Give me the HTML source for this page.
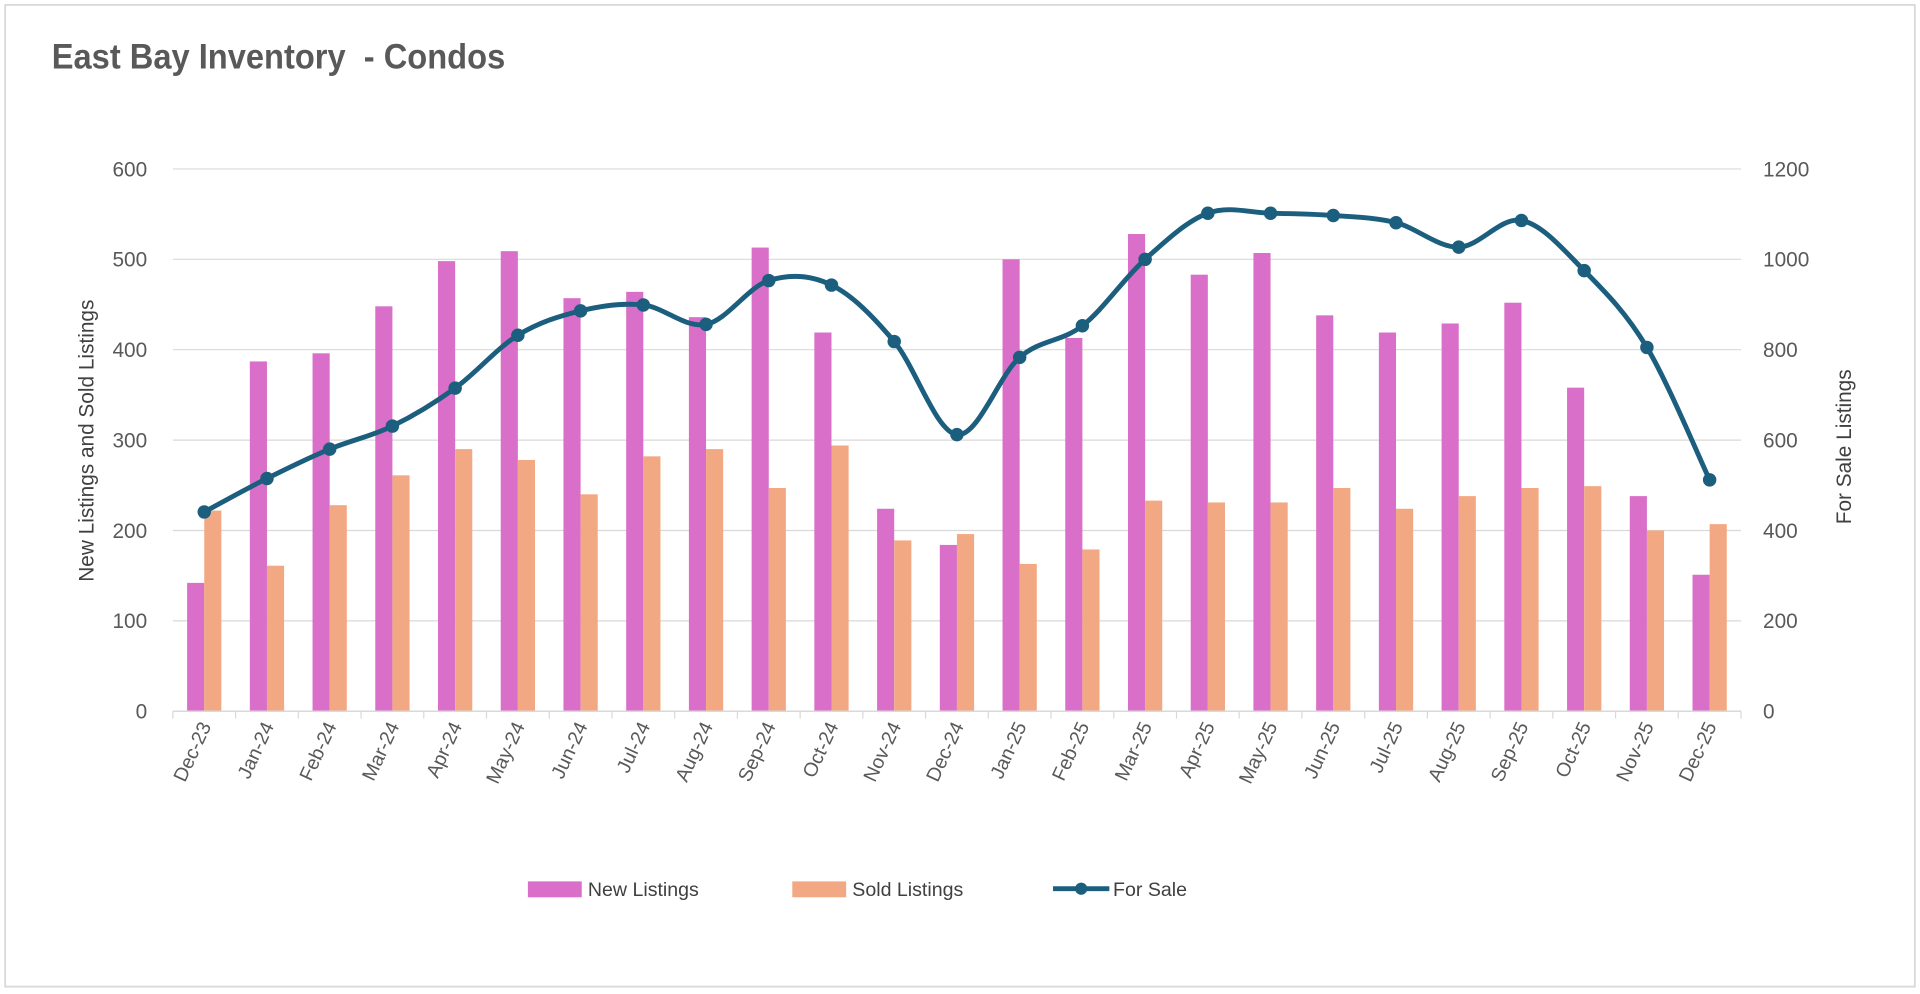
<!DOCTYPE html>
<html><head><meta charset="utf-8"><style>
html,body{margin:0;padding:0;background:#fff;}
svg{display:block;font-family:"Liberation Sans",Arial,sans-serif;}
</style></head><body>
<svg id="chart" width="1920" height="994" viewBox="0 0 1568 812" xmlns="http://www.w3.org/2000/svg">
<rect x="4" y="4" width="1560" height="802" fill="#fff" stroke="#d9d9d9" stroke-width="1.5"/>
<text x="42" y="56" font-size="29" font-weight="bold" fill="#595959" xml:space="preserve" transform="translate(3.4,0) scale(0.92,1)">East Bay Inventory &#160;- Condos</text>
<g id="grid"></g><g id="bars"></g><g id="line"></g><g id="axes"></g>
<text transform="translate(76,360) rotate(-90)" text-anchor="middle" font-size="17" fill="#404040">New Listings and Sold Listings</text>
<text transform="translate(1512,365) rotate(-90)" text-anchor="middle" font-size="17" fill="#404040">For Sale Listings</text>
<g>
 <g><rect x="431" y="720" width="44" height="13" fill="#D96FC9"/><text x="480" y="732" font-size="16" fill="#404040">New Listings</text></g>
 <g><rect x="647" y="720" width="44" height="13" fill="#F2A983"/><text x="696" y="732" font-size="16" fill="#404040">Sold Listings</text></g>
 <g><line x1="860" y1="726" x2="906" y2="726" stroke="#1B5E7E" stroke-width="4"/><circle cx="883" cy="726" r="5" fill="#1B5E7E"/><text x="909" y="732" font-size="16" fill="#404040">For Sale</text></g>
</g>
</svg>
<script>
const categories=["Dec-23","Jan-24","Feb-24","Mar-24","Apr-24","May-24","Jun-24","Jul-24","Aug-24","Sep-24","Oct-24","Nov-24","Dec-24","Jan-25","Feb-25","Mar-25","Apr-25","May-25","Jun-25","Jul-25","Aug-25","Sep-25","Oct-25","Nov-25","Dec-25"];
const newListings=[142,387,396,448,498,509,457,464,436,513,419,224,184,500,413,528,483,507,438,419,429,452,358,238,151];
const soldListings=[222,161,228,261,290,278,240,282,290,247,294,189,196,163,179,233,231,231,247,224,238,247,249,200,207];
const forSale=[441,515,580,631,715,832,886,899,856,953,943,818,612,783,853,1000,1102,1102,1097,1081,1027,1086,975,805,512];
const leftTicks=[0,100,200,300,400,500,600];
const rightTicks=[0,200,400,600,800,1000,1200];

const NS="http://www.w3.org/2000/svg";
const X0=141,X1=1422,Y0=581,Y1=138;
const slot=(X1-X0)/categories.length;
const yL=v=>Y0-(v/600)*(Y0-Y1);
const yR=v=>Y0-(v/1200)*(Y0-Y1);
const xC=i=>X0+slot*(i+0.5);
function mk(tag,attrs,parent){const e=document.createElementNS(NS,tag);for(const k in attrs)e.setAttribute(k,attrs[k]);parent.appendChild(e);return e;}
const grid=document.getElementById('grid'),bars=document.getElementById('bars'),line=document.getElementById('line'),axes=document.getElementById('axes');
leftTicks.forEach((t,i)=>{
  const g=mk('line',{x1:X0,x2:X1,y1:yL(t),y2:yL(t),stroke:'#d9d9d9','stroke-width':1},grid);
  
  
  const tl=mk('text',{x:120,y:yL(t)+6,'text-anchor':'end','font-size':17,fill:'#595959'},axes);
  tl.textContent=t;
  
  
  const tr=mk('text',{x:1440,y:yR(rightTicks[i])+6,'text-anchor':'start','font-size':17,fill:'#595959'},axes);
  tr.textContent=rightTicks[i];
  
  
});
const bw=14;
categories.forEach((c,i)=>{
  const cx=xC(i);
  const b1=mk('rect',{x:cx-bw,y:yL(newListings[i]),width:bw,height:Y0-yL(newListings[i]),fill:'#D96FC9'},bars);
  
  
  const b2=mk('rect',{x:cx,y:yL(soldListings[i]),width:bw,height:Y0-yL(soldListings[i]),fill:'#F2A983'},bars);
  
  
  const tk=mk('line',{x1:X0+slot*i,x2:X0+slot*i,y1:Y0,y2:Y0+6,stroke:'#d9d9d9'},axes);
  
  
  const lb=mk('text',{transform:`translate(${cx+6},${Y0+12}) rotate(-65)`,'text-anchor':'end','font-size':16,fill:'#595959'},axes);
  lb.textContent=c;
  
  
});
const ax=mk('line',{x1:X0,x2:X1,y1:Y0,y2:Y0,stroke:'#d9d9d9','stroke-width':1.2},axes);


const endTick=mk('line',{x1:X1,x2:X1,y1:Y0,y2:Y0+6,stroke:'#d9d9d9'},axes);


const pts=forSale.map((v,i)=>[xC(i),yR(v)]);
let d=`M${pts[0][0]},${pts[0][1]}`;
for(let i=0;i<pts.length-1;i++){
  const p0=pts[i-1]||pts[i],p1=pts[i],p2=pts[i+1],p3=pts[i+2]||p2,t=6;
  d+=` C${p1[0]+(p2[0]-p0[0])/t},${p1[1]+(p2[1]-p0[1])/t} ${p2[0]-(p3[0]-p1[0])/t},${p2[1]-(p3[1]-p1[1])/t} ${p2[0]},${p2[1]}`;
}
const path=mk('path',{d:d,fill:'none',stroke:'#1B5E7E','stroke-width':4,'stroke-linejoin':'round'},line);


pts.forEach((p,i)=>{
  const c=mk('circle',{cx:p[0],cy:p[1],r:5.5,fill:'#1B5E7E'},line);
  
  
});
</script>
</body></html>
